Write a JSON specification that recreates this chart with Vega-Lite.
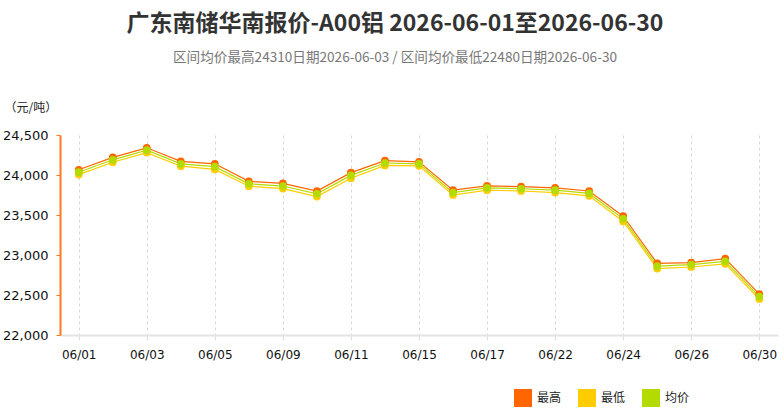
{
  "$schema": "https://vega.github.io/schema/vega-lite/v6.json",
  "autosize": "none",
  "width": 718,
  "height": 200,
  "padding": {"left": 60, "top": 135, "right": 6, "bottom": 78},
  "background": "#ffffff",
  "config": {
    "view": {"stroke": null},
    "font": "DejaVu Sans"
  },
  "title": {
    "text": "广东南储华南报价-A00铝 2026-06-01至2026-06-30",
    "subtitle": "区间均价最高24310日期2026-06-03 / 区间均价最低22480日期2026-06-30",
    "anchor": "middle",
    "dx": -24,
    "offset": 36,
    "font": "Noto Sans CJK SC",
    "fontSize": 23,
    "fontWeight": "bold",
    "color": "#333333",
    "subtitleFont": "Noto Sans CJK SC",
    "subtitleFontSize": 13.6,
    "subtitleColor": "#777777",
    "subtitlePadding": 15
  },
  "data": {
    "values": [
      {"date": "06/01", "series": "最高", "value": 24065},
      {"date": "06/01", "series": "最低", "value": 24005},
      {"date": "06/01", "series": "均价", "value": 24035},
      {"date": "06/02", "series": "最高", "value": 24220},
      {"date": "06/02", "series": "最低", "value": 24160},
      {"date": "06/02", "series": "均价", "value": 24190},
      {"date": "06/03", "series": "最高", "value": 24340},
      {"date": "06/03", "series": "最低", "value": 24280},
      {"date": "06/03", "series": "均价", "value": 24310},
      {"date": "06/04", "series": "最高", "value": 24170},
      {"date": "06/04", "series": "最低", "value": 24110},
      {"date": "06/04", "series": "均价", "value": 24140},
      {"date": "06/05", "series": "最高", "value": 24140},
      {"date": "06/05", "series": "最低", "value": 24070},
      {"date": "06/05", "series": "均价", "value": 24105},
      {"date": "06/08", "series": "最高", "value": 23920},
      {"date": "06/08", "series": "最低", "value": 23860},
      {"date": "06/08", "series": "均价", "value": 23890},
      {"date": "06/09", "series": "最高", "value": 23895},
      {"date": "06/09", "series": "最低", "value": 23830},
      {"date": "06/09", "series": "均价", "value": 23862},
      {"date": "06/10", "series": "最高", "value": 23800},
      {"date": "06/10", "series": "最低", "value": 23730},
      {"date": "06/10", "series": "均价", "value": 23765},
      {"date": "06/11", "series": "最高", "value": 24030},
      {"date": "06/11", "series": "最低", "value": 23960},
      {"date": "06/11", "series": "均价", "value": 23995},
      {"date": "06/12", "series": "最高", "value": 24180},
      {"date": "06/12", "series": "最低", "value": 24120},
      {"date": "06/12", "series": "均价", "value": 24150},
      {"date": "06/15", "series": "最高", "value": 24165},
      {"date": "06/15", "series": "最低", "value": 24115},
      {"date": "06/15", "series": "均价", "value": 24140},
      {"date": "06/16", "series": "最高", "value": 23810},
      {"date": "06/16", "series": "最低", "value": 23750},
      {"date": "06/16", "series": "均价", "value": 23780},
      {"date": "06/17", "series": "最高", "value": 23865},
      {"date": "06/17", "series": "最低", "value": 23810},
      {"date": "06/17", "series": "均价", "value": 23840},
      {"date": "06/18", "series": "最高", "value": 23855},
      {"date": "06/18", "series": "最低", "value": 23800},
      {"date": "06/18", "series": "均价", "value": 23828},
      {"date": "06/22", "series": "最高", "value": 23840},
      {"date": "06/22", "series": "最低", "value": 23780},
      {"date": "06/22", "series": "均价", "value": 23810},
      {"date": "06/23", "series": "最高", "value": 23800},
      {"date": "06/23", "series": "最低", "value": 23740},
      {"date": "06/23", "series": "均价", "value": 23770},
      {"date": "06/24", "series": "最高", "value": 23485},
      {"date": "06/24", "series": "最低", "value": 23420},
      {"date": "06/24", "series": "均价", "value": 23452},
      {"date": "06/25", "series": "最高", "value": 22895},
      {"date": "06/25", "series": "最低", "value": 22830},
      {"date": "06/25", "series": "均价", "value": 22860},
      {"date": "06/26", "series": "最高", "value": 22905},
      {"date": "06/26", "series": "最低", "value": 22850},
      {"date": "06/26", "series": "均价", "value": 22880},
      {"date": "06/29", "series": "最高", "value": 22955},
      {"date": "06/29", "series": "最低", "value": 22890},
      {"date": "06/29", "series": "均价", "value": 22920},
      {"date": "06/30", "series": "最高", "value": 22510},
      {"date": "06/30", "series": "最低", "value": 22450},
      {"date": "06/30", "series": "均价", "value": 22480}
    ]
  },
  "encoding": {
    "x": {
      "field": "date",
      "type": "ordinal",
      "sort": null,
      "scale": {"type": "point", "padding": 0.55},
      "axis": {
        "title": null,
        "values": ["06/01", "06/03", "06/05", "06/09", "06/11", "06/15", "06/17", "06/22", "06/24", "06/26", "06/30"],
        "labelAngle": 0,
        "labelFont": "DejaVu Sans",
        "labelFontSize": 12,
        "labelColor": "#111111",
        "labelPadding": 9,
        "grid": true,
        "gridDash": [3, 3],
        "gridColor": "#d8d8d8",
        "domainColor": "#e3e3e3",
        "domainWidth": 2,
        "tickColor": "#dddddd",
        "tickSize": 5
      }
    },
    "y": {
      "field": "value",
      "type": "quantitative",
      "scale": {"domain": [22000, 24500], "nice": false, "zero": false},
      "axis": {
        "title": "（元/吨）",
        "titleAngle": 0,
        "titleAlign": "left",
        "titleBaseline": "middle",
        "titleX": -56,
        "titleY": -28,
        "titleFont": "Noto Sans CJK SC",
        "titleFontSize": 12,
        "titleFontWeight": "normal",
        "titleColor": "#222222",
        "values": [22000, 22500, 23000, 23500, 24000, 24500],
        "format": ",.0f",
        "labelFont": "DejaVu Sans",
        "labelFontSize": 13,
        "labelColor": "#111111",
        "labelPadding": 8,
        "grid": false,
        "domainColor": "#FF7A1A",
        "domainWidth": 2,
        "tickColor": "#FF7A1A",
        "tickSize": 4,
        "tickWidth": 1
      }
    },
    "color": {
      "field": "series",
      "type": "nominal",
      "scale": {"domain": ["最高", "最低", "均价"], "range": ["#FF6600", "#FFCC00", "#B3DB00"]},
      "legend": {
        "title": null,
        "orient": "none",
        "direction": "horizontal",
        "legendX": 454,
        "legendY": 254,
        "symbolType": "square",
        "symbolSize": 324,
        "symbolStrokeWidth": 0,
        "symbolOpacity": 1,
        "labelFont": "Noto Sans CJK SC",
        "labelFontSize": 12,
        "labelColor": "#222222",
        "labelOffset": 5,
        "columnPadding": 16,
        "padding": 0
      }
    }
  },
  "layer": [
    {"transform": [{"filter": "datum.series == '最低'"}], "mark": {"type": "line", "strokeWidth": 1.2}},
    {"transform": [{"filter": "datum.series == '最高'"}], "mark": {"type": "line", "strokeWidth": 1.2}},
    {"transform": [{"filter": "datum.series == '均价'"}], "mark": {"type": "line", "strokeWidth": 1.2}},
    {"transform": [{"filter": "datum.series == '最低'"}], "mark": {"type": "circle", "size": 60, "opacity": 1}},
    {"transform": [{"filter": "datum.series == '最高'"}], "mark": {"type": "circle", "size": 60, "opacity": 1}},
    {"transform": [{"filter": "datum.series == '均价'"}], "mark": {"type": "circle", "size": 60, "opacity": 1}}
  ]
}
